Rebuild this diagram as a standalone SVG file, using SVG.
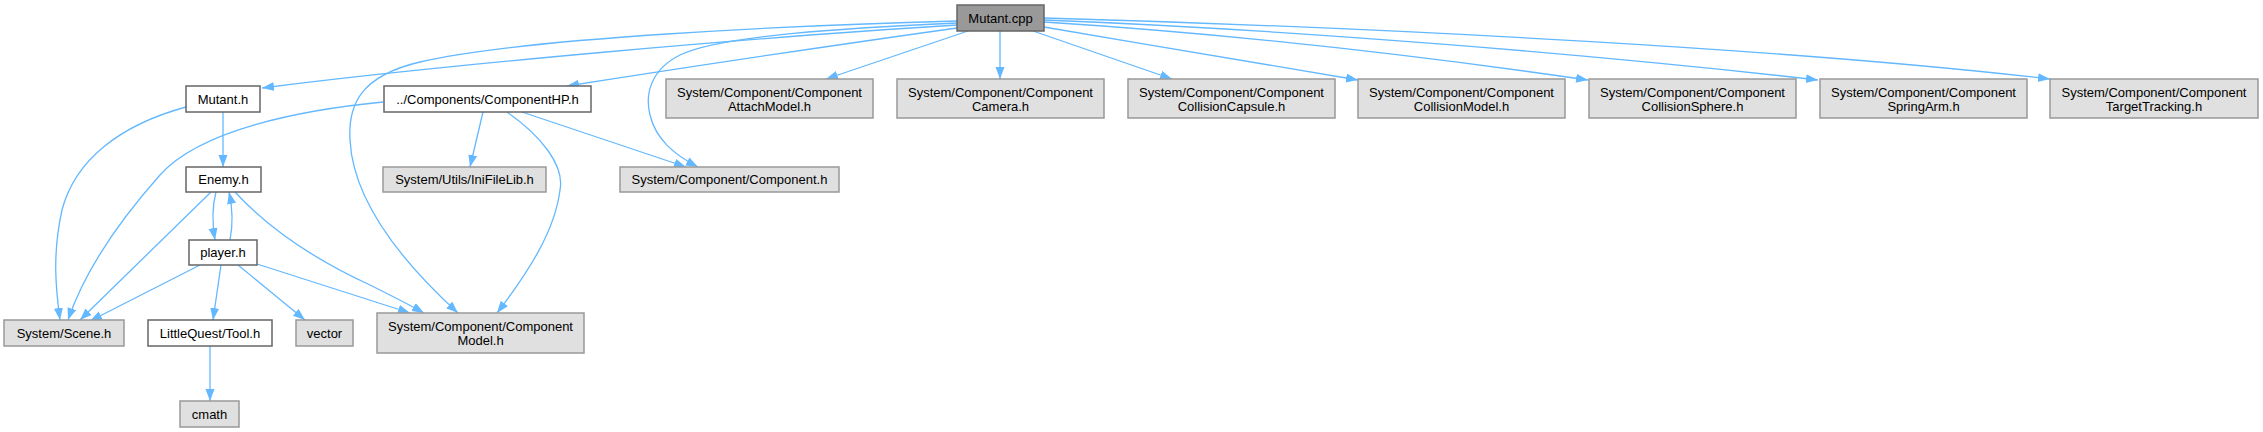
<svg xmlns="http://www.w3.org/2000/svg" width="2263" height="432" viewBox="0 0 2263 432">
<style>
.n rect{stroke-width:1.5}
.doc rect{fill:#ffffff;stroke:#666666}
.ext rect{fill:#e0e0e0;stroke:#999999}
.root rect{fill:#999999;stroke:#666666}
text{font-family:"Liberation Sans",Arial,sans-serif;font-size:13px;fill:#000;text-anchor:middle}
#edges path{fill:none;stroke:#63b8ff;stroke-width:1.3;marker-end:url(#ah)}
</style>
<defs>
<marker id="ah" markerUnits="userSpaceOnUse" markerWidth="13" markerHeight="10" refX="12" refY="4.5" orient="auto">
<path d="M0,0 L12,4.5 L0,9 z" fill="#63b8ff"/>
</marker>
</defs>
<rect width="2263" height="432" fill="#ffffff"/>
<g id="edges">
<path d="M957,25 C760,37 450,64 262,88"/>
<path d="M957,28 C800,50 650,73 567,86"/>
<path d="M957,23 C850,28 720,35 680,55 C650,70 645,95 650,115 C656,140 675,155 698,167"/>
<path d="M957,21 C800,25 520,38 420,62 C360,76 348,105 350,140 C353,200 400,260 458,313"/>
<path d="M968,31 L826,79"/>
<path d="M1000,31 L1000,79"/>
<path d="M1033,31 L1172,79"/>
<path d="M1044,27 C1150,45 1270,65 1358,80"/>
<path d="M1044,22 C1250,35 1450,60 1588,80"/>
<path d="M1044,20 C1300,30 1600,55 1818,80"/>
<path d="M1044,18 C1400,28 1800,50 2050,79"/>
<path d="M223,112 L223,167"/>
<path d="M186,107 C120,125 75,160 62,210 C52,255 56,290 60,320"/>
<path d="M383,102 C300,110 200,130 160,175 C120,220 85,270 68,320"/>
<path d="M483,112 L470,167"/>
<path d="M522,112 L686,167"/>
<path d="M507,112 C540,135 565,165 560,190 C555,230 530,270 497,313"/>
<path d="M216,192 C212,207 212,222 215,240"/>
<path d="M230,240 C233,225 233,210 229,192"/>
<path d="M211,192 L80,320"/>
<path d="M235,192 C270,230 320,262 370,285 C390,295 410,305 424,313"/>
<path d="M200,265 L90,321"/>
<path d="M221,265 L213,320"/>
<path d="M238,265 L305,320"/>
<path d="M257,264 L410,313"/>
<path d="M210,346 L210,401"/>
</g>
<g id="mutant_cpp" class="n root"><rect x="957" y="5" width="87" height="26"/><text x="1000.5" y="22.5">Mutant.cpp</text></g>
<g id="mutant_h" class="n doc"><rect x="186" y="86" width="74" height="26"/><text x="223" y="103.5">Mutant.h</text></g>
<g id="componenthp_h" class="n doc"><rect x="384" y="86" width="207" height="26"/><text x="487.5" y="103.5">../Components/ComponentHP.h</text></g>
<g id="attachmodel_h" class="n ext"><rect x="666" y="79" width="207" height="39"/><text x="769.5" y="96.5">System/Component/Component</text><text x="769.5" y="110.5">AttachModel.h</text></g>
<g id="camera_h" class="n ext"><rect x="897" y="79" width="207" height="39"/><text x="1000.5" y="96.5">System/Component/Component</text><text x="1000.5" y="110.5">Camera.h</text></g>
<g id="collisioncapsule_h" class="n ext"><rect x="1128" y="79" width="207" height="39"/><text x="1231.5" y="96.5">System/Component/Component</text><text x="1231.5" y="110.5">CollisionCapsule.h</text></g>
<g id="collisionmodel_h" class="n ext"><rect x="1358" y="79" width="207" height="39"/><text x="1461.5" y="96.5">System/Component/Component</text><text x="1461.5" y="110.5">CollisionModel.h</text></g>
<g id="collisionsphere_h" class="n ext"><rect x="1589" y="79" width="207" height="39"/><text x="1692.5" y="96.5">System/Component/Component</text><text x="1692.5" y="110.5">CollisionSphere.h</text></g>
<g id="springarm_h" class="n ext"><rect x="1820" y="79" width="207" height="39"/><text x="1923.5" y="96.5">System/Component/Component</text><text x="1923.5" y="110.5">SpringArm.h</text></g>
<g id="targettracking_h" class="n ext"><rect x="2050" y="79" width="208" height="39"/><text x="2154" y="96.5">System/Component/Component</text><text x="2154" y="110.5">TargetTracking.h</text></g>
<g id="enemy_h" class="n doc"><rect x="186" y="167" width="75" height="25"/><text x="223.5" y="184">Enemy.h</text></g>
<g id="inifilelib_h" class="n ext"><rect x="383" y="167" width="163" height="25"/><text x="464.5" y="184">System/Utils/IniFileLib.h</text></g>
<g id="component_h" class="n ext"><rect x="620" y="167" width="219" height="25"/><text x="729.5" y="184">System/Component/Component.h</text></g>
<g id="player_h" class="n doc"><rect x="189" y="240" width="68" height="25"/><text x="223" y="257">player.h</text></g>
<g id="scene_h" class="n ext"><rect x="4" y="320" width="120" height="26"/><text x="64" y="337.5">System/Scene.h</text></g>
<g id="tool_h" class="n doc"><rect x="148" y="320" width="124" height="26"/><text x="210" y="337.5">LittleQuest/Tool.h</text></g>
<g id="vector" class="n ext"><rect x="296" y="320" width="57" height="26"/><text x="324.5" y="337.5">vector</text></g>
<g id="componentmodel_h" class="n ext"><rect x="377" y="313" width="207" height="40"/><text x="480.5" y="330.5">System/Component/Component</text><text x="480.5" y="344.5">Model.h</text></g>
<g id="cmath" class="n ext"><rect x="180" y="401" width="59" height="26"/><text x="209.5" y="418.5">cmath</text></g>
</svg>
